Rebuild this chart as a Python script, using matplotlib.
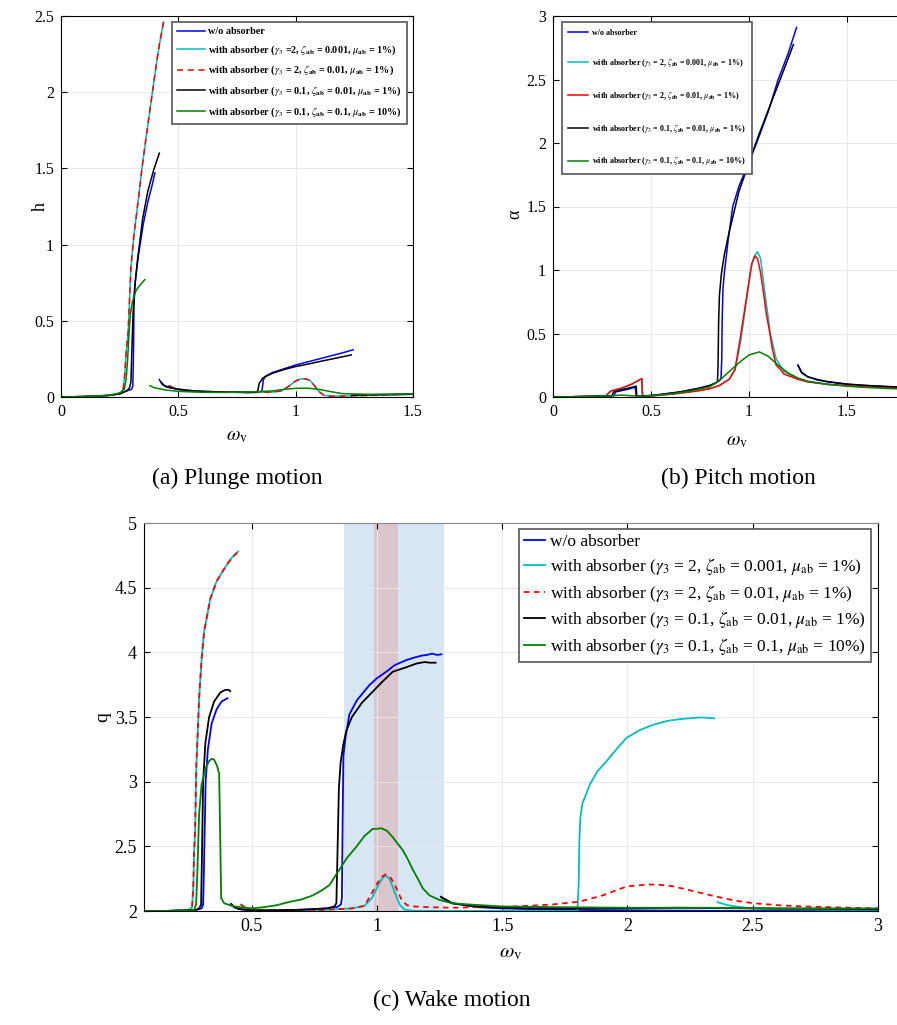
import numpy as np
import matplotlib
matplotlib.use("Agg")
import matplotlib.pyplot as plt
from matplotlib.ticker import FormatStrFormatter

plt.rcParams['font.family'] = ['Liberation Serif', 'DejaVu Serif']
plt.rcParams['mathtext.fontset'] = 'stix'

nan = np.nan

# ==================== (a) plunge h ====================
a_blue_x = [0, 0.1, 0.2, 0.25, 0.28, 0.30, 0.306, 0.309, 0.311, 0.316, 0.33, 0.35, 0.37, 0.39, 0.40, nan,
            0.419, 0.43, 0.45, 0.5, 0.55, 0.6, 0.7, 0.8, 0.855, 0.858, 0.862, 0.87, 0.9, 0.95, 1.0, 1.05, 1.1, 1.15, 1.2, 1.245, nan,
            1.25, 1.3, 1.4, 1.5]
a_blue_y = [0, 0.003, 0.01, 0.02, 0.04, 0.05, 0.07, 0.3, 0.6, 0.75, 0.93, 1.13, 1.28, 1.40, 1.47, nan,
            0.115, 0.085, 0.065, 0.05, 0.042, 0.037, 0.032, 0.03, 0.032, 0.06, 0.11, 0.135, 0.16, 0.185, 0.21, 0.23, 0.25, 0.27, 0.29, 0.31, nan,
            0.012, 0.014, 0.016, 0.018]
a_black_x = [0, 0.1, 0.2, 0.25, 0.28, 0.292, 0.298, 0.302, 0.307, 0.314, 0.326, 0.348, 0.37, 0.395, 0.419, nan,
             0.425, 0.44, 0.47, 0.5, 0.55, 0.6, 0.7, 0.8, 0.83, 0.838, 0.845, 0.86, 0.9, 0.95, 1.0, 1.05, 1.1, 1.15, 1.2, 1.237, nan,
             1.24, 1.3, 1.4, 1.5]
a_black_y = [0, 0.003, 0.01, 0.02, 0.04, 0.06, 0.1, 0.3, 0.55, 0.72, 0.9, 1.17, 1.35, 1.49, 1.60, nan,
             0.10, 0.075, 0.06, 0.05, 0.042, 0.037, 0.032, 0.03, 0.031, 0.04, 0.09, 0.125, 0.155, 0.18, 0.2, 0.215, 0.232, 0.248, 0.264, 0.276, nan,
             0.012, 0.014, 0.016, 0.018]
a_cyan_x = [0, 0.1, 0.2, 0.25, 0.265, 0.272, 0.278, 0.286, 0.298, 0.31, 0.329, 0.345, 0.365, 0.385, 0.405, 0.42, 0.437, nan,
            0.46, 0.48, 0.5, 0.55, 0.6, 0.7, 0.8, 0.9, 0.94, 0.97, 1.0, 1.02, 1.04, 1.06, 1.08, 1.1, 1.12, 1.15, 1.2, 1.3, 1.4, 1.5]
a_cyan_y = [0, 0.003, 0.01, 0.025, 0.05, 0.15, 0.3, 0.42, 0.85, 1.05, 1.29, 1.5, 1.73, 1.95, 2.17, 2.32, 2.46, nan,
            0.075, 0.06, 0.052, 0.042, 0.036, 0.032, 0.03, 0.032, 0.04, 0.07, 0.105, 0.118, 0.12, 0.11, 0.075, 0.035, 0.012, 0.005, 0.006, 0.01, 0.015, 0.02]
a_red_x = a_cyan_x
a_red_y = a_cyan_y
a_green_x = [0, 0.1, 0.2, 0.25, 0.27, 0.278, 0.284, 0.29, 0.296, 0.305, 0.32, 0.34, 0.357, nan,
             0.379, 0.4, 0.45, 0.5, 0.6, 0.7, 0.8, 0.9, 0.95, 1.0, 1.05, 1.1, 1.15, 1.2, 1.3, 1.4, 1.5]
a_green_y = [0, 0.003, 0.01, 0.025, 0.05, 0.12, 0.25, 0.42, 0.55, 0.63, 0.7, 0.74, 0.77, nan,
             0.074, 0.06, 0.045, 0.037, 0.031, 0.03, 0.032, 0.04, 0.05, 0.057, 0.058, 0.05, 0.035, 0.022, 0.018, 0.018, 0.02]

# ==================== (b) pitch alpha ====================
b_blue_x = [0, 0.1, 0.2, 0.28, 0.31, 0.32, 0.35, 0.38, 0.415, 0.42, 0.425, 0.45, 0.5, 0.55, 0.6, 0.65, 0.7, 0.75, 0.8, 0.83, 0.85,
            0.858, 0.862, 0.864, 0.868, 0.875, 0.895, 0.918, 0.95, 1.0, 1.04, 1.1, 1.15, 1.2, 1.244, nan,
            1.25, 1.27, 1.3, 1.35, 1.4, 1.5, 1.6, 1.7, 1.8]
b_blue_y = [0, 0.002, 0.005, 0.008, 0.01, 0.04, 0.05, 0.06, 0.075, 0.078, 0.005, 0.006, 0.012, 0.02, 0.03, 0.04, 0.055, 0.07, 0.09, 0.11, 0.13,
            0.15, 0.3, 0.6, 0.85, 0.975, 1.24, 1.5, 1.66, 1.85, 2.0, 2.25, 2.5, 2.7, 2.91, nan,
            0.25, 0.19, 0.16, 0.135, 0.12, 0.1, 0.09, 0.082, 0.075]
b_black_x = [0, 0.1, 0.2, 0.28, 0.3, 0.31, 0.35, 0.38, 0.425, 0.428, 0.45, 0.5, 0.55, 0.6, 0.65, 0.7, 0.75, 0.8, 0.83, 0.84,
             0.843, 0.846, 0.85, 0.86, 0.875, 0.9, 0.95, 1.0, 1.05, 1.1, 1.15, 1.2, 1.228, nan,
             1.252, 1.27, 1.3, 1.35, 1.4, 1.5, 1.6, 1.7, 1.8]
b_black_y = [0, 0.002, 0.005, 0.008, 0.01, 0.04, 0.058, 0.068, 0.085, 0.005, 0.006, 0.012, 0.02, 0.03, 0.04, 0.055, 0.07, 0.09, 0.11, 0.12,
             0.25, 0.6, 0.8, 0.97, 1.12, 1.3, 1.62, 1.84, 2.06, 2.26, 2.46, 2.66, 2.776, nan,
             0.25, 0.195, 0.16, 0.137, 0.122, 0.102, 0.091, 0.083, 0.077]
b_cyan_x = [0, 0.1, 0.2, 0.27, 0.28, 0.29, 0.3, 0.35, 0.4, 0.454, 0.456, 0.46, 0.5, 0.6, 0.7, 0.8, 0.85, 0.9, 0.93, 0.96, 0.99,
            1.01, 1.025, 1.044, 1.06, 1.08, 1.11, 1.14, 1.18, 1.25, 1.3, 1.4, 1.5, 1.6, 1.7, 1.8]
b_cyan_y = [0, 0.002, 0.005, 0.008, 0.025, 0.04, 0.05, 0.07, 0.1, 0.145, 0.03, 0.005, 0.008, 0.022, 0.04, 0.065, 0.09, 0.14, 0.21, 0.45, 0.78,
            1.0, 1.1, 1.145, 1.09, 0.85, 0.5, 0.3, 0.2, 0.14, 0.12, 0.1, 0.09, 0.08, 0.075, 0.07]
b_red_x = [0, 0.1, 0.2, 0.27, 0.28, 0.29, 0.3, 0.35, 0.4, 0.454, 0.456, 0.46, 0.5, 0.55, 0.6, 0.65, 0.7, 0.75, 0.8, 0.85, 0.9,
           0.93, 0.96, 0.99, 1.0, 1.015, 1.032, 1.045, 1.06, 1.077, 1.09, 1.108, 1.12, 1.14, 1.16, 1.18, 1.25, 1.3, 1.4, 1.5, 1.6, 1.7, 1.8]
b_red_y = [0, 0.002, 0.005, 0.008, 0.025, 0.04, 0.05, 0.07, 0.1, 0.145, 0.03, 0.005, 0.008, 0.015, 0.022, 0.03, 0.04, 0.05, 0.065, 0.09, 0.14,
           0.22, 0.5, 0.8, 0.9, 1.05, 1.11, 1.09, 0.98, 0.8, 0.65, 0.5, 0.38, 0.25, 0.22, 0.18, 0.14, 0.12, 0.1, 0.09, 0.08, 0.075, 0.07]
b_green_x = [0, 0.1, 0.2, 0.3, 0.35, 0.4, 0.45, 0.5, 0.6, 0.7, 0.8, 0.85, 0.9, 0.95, 1.0, 1.054, 1.1, 1.15, 1.2, 1.25,
             1.3, 1.4, 1.5, 1.6, 1.7, 1.8]
b_green_y = [0, 0.002, 0.005, 0.01, 0.015, 0.01, 0.005, 0.01, 0.025, 0.045, 0.08, 0.13, 0.2, 0.27, 0.33, 0.355, 0.32, 0.25, 0.19, 0.15,
             0.125, 0.1, 0.085, 0.075, 0.068, 0.062]

# ==================== (c) wake q ====================
c_blue_x = [0.07, 0.15, 0.2, 0.25, 0.28, 0.3, 0.306, 0.309, 0.312, 0.316, 0.325, 0.34, 0.36, 0.38, 0.403, nan,
            0.417, 0.43, 0.45, 0.5, 0.6, 0.7, 0.8, 0.84, 0.856, 0.86, 0.863, 0.866, 0.875, 0.89, 0.92, 0.95, 0.97, 1.0,
            1.037, 1.07, 1.117, 1.15, 1.18, 1.2, 1.22, 1.24, 1.257, nan,
            1.26, 1.3, 1.4, 1.5, 1.7, 2.0, 2.5, 3.0]
c_blue_y = [2.0, 2.0, 2.003, 2.006, 2.01, 2.02, 2.05, 2.3, 2.6, 3.0, 3.25, 3.45, 3.56, 3.62, 3.645, nan,
            2.055, 2.03, 2.015, 2.005, 2.005, 2.01, 2.02, 2.03, 2.05, 2.1, 2.7, 3.2, 3.35, 3.52, 3.63, 3.7, 3.747, 3.8,
            3.85, 3.9, 3.94, 3.96, 3.975, 3.98, 3.99, 3.98, 3.985, nan,
            2.1, 2.06, 2.03, 2.02, 2.01, 2.005, 2.0, 2.0]
c_black_x = [0.07, 0.15, 0.2, 0.25, 0.28, 0.29, 0.298, 0.302, 0.306, 0.315, 0.33, 0.35, 0.375, 0.395, 0.408, 0.414, nan,
             0.42, 0.43, 0.45, 0.5, 0.6, 0.7, 0.8, 0.83, 0.838, 0.843, 0.848, 0.855, 0.865, 0.877, 0.9, 0.94, 0.983, 1.02,
             1.063, 1.11, 1.157, 1.19, 1.21, 1.234, nan,
             1.255, 1.3, 1.4, 1.5, 1.7, 2.0, 2.2, 2.5, 3.0]
c_black_y = [2.0, 2.0, 2.003, 2.006, 2.01, 2.02, 2.05, 2.5, 3.0, 3.3, 3.5, 3.62, 3.69, 3.71, 3.71, 3.70, nan,
             2.05, 2.03, 2.015, 2.005, 2.005, 2.01, 2.02, 2.035, 2.06, 2.5, 2.95, 3.15, 3.28, 3.39, 3.5, 3.61, 3.696, 3.77,
             3.85, 3.88, 3.913, 3.925, 3.92, 3.92, nan,
             2.11, 2.06, 2.035, 2.025, 2.02, 2.02, 2.025, 2.02, 2.015]
c_cyan_x = [0.07, 0.15, 0.2, 0.25, 0.262, 0.267, 0.27, 0.274, 0.279, 0.285, 0.29, 0.3, 0.31, 0.334, 0.36, 0.397, 0.42, 0.446, nan,
            0.457, 0.47, 0.5, 0.6, 0.7, 0.8, 0.9, 0.95, 0.98, 1.0, 1.02, 1.034, 1.05, 1.07, 1.09, 1.11, 1.15, 1.2, 1.3, 1.5,
            1.7, 1.8, 1.805, 1.808, 1.812, 1.82, 1.85, 1.88, 1.917, 1.96, 1.997, 2.05, 2.103, 2.16, 2.21, 2.29, 2.346, nan,
            2.359, 2.4, 2.45, 2.5, 2.6, 2.8, 3.0]
c_cyan_y = [2.0, 2.0, 2.003, 2.01, 2.03, 2.2, 2.45, 2.62, 3.13, 3.4, 3.645, 3.95, 4.16, 4.41, 4.55, 4.667, 4.73, 4.78, nan,
            2.05, 2.03, 2.01, 2.005, 2.005, 2.01, 2.02, 2.04, 2.1, 2.18, 2.25, 2.275, 2.25, 2.15, 2.05, 2.01, 2.0, 2.0, 2.0, 2.0,
            2.0, 2.0, 2.2, 2.55, 2.725, 2.83, 2.98, 3.08, 3.16, 3.26, 3.34, 3.4, 3.44, 3.47, 3.484, 3.497, 3.49, nan,
            2.068, 2.045, 2.03, 2.02, 2.015, 2.01, 2.01]
c_red_x = [0.07, 0.15, 0.2, 0.25, 0.262, 0.267, 0.27, 0.274, 0.279, 0.285, 0.29, 0.3, 0.31, 0.334, 0.36, 0.397, 0.42, 0.446, nan,
           0.457, 0.47, 0.5, 0.6, 0.7, 0.8, 0.9, 0.95, 0.983, 1.0, 1.02, 1.034, 1.05, 1.07, 1.083, 1.1, 1.12, 1.15, 1.2, 1.3,
           1.4, 1.503, 1.6, 1.7, 1.81, 1.9, 1.997, 2.05, 2.09, 2.15, 2.183, 2.25, 2.357, 2.43, 2.503, 2.6, 2.7, 2.8, 2.9, 3.0]
c_red_y = [2.0, 2.0, 2.003, 2.01, 2.03, 2.2, 2.45, 2.62, 3.13, 3.4, 3.645, 3.95, 4.16, 4.41, 4.55, 4.667, 4.73, 4.78, nan,
           2.05, 2.03, 2.01, 2.005, 2.005, 2.01, 2.02, 2.04, 2.15, 2.21, 2.265, 2.283, 2.27, 2.21, 2.15, 2.08, 2.045, 2.035, 2.03, 2.025,
           2.03, 2.03, 2.04, 2.05, 2.073, 2.12, 2.19, 2.2, 2.205, 2.2, 2.19, 2.16, 2.11, 2.08, 2.06, 2.045, 2.035, 2.03, 2.025, 2.02]
c_green_x = [0.07, 0.15, 0.2, 0.25, 0.27, 0.278, 0.283, 0.29, 0.3, 0.315, 0.33, 0.341, 0.35, 0.362, 0.37, 0.374, 0.378, 0.39,
             0.42, 0.45, 0.503, 0.55, 0.6, 0.65, 0.7, 0.743, 0.78, 0.81, 0.85, 0.88, 0.917, 0.95, 0.983, 1.0, 1.017, 1.04,
             1.063, 1.083, 1.103, 1.123, 1.143, 1.163, 1.183, 1.21, 1.25, 1.3, 1.37, 1.5, 1.7, 2.0, 2.3, 2.6, 3.0]
c_green_y = [2.0, 2.0, 2.003, 2.006, 2.01, 2.05, 2.3, 2.75, 2.98, 3.1, 3.16, 3.177, 3.17, 3.12, 3.06, 2.6, 2.1, 2.06,
             2.04, 2.03, 2.02, 2.03, 2.045, 2.07, 2.09, 2.12, 2.16, 2.2, 2.32, 2.41, 2.495, 2.58, 2.635, 2.635, 2.64, 2.62,
             2.57, 2.52, 2.47, 2.4, 2.32, 2.25, 2.175, 2.12, 2.085, 2.06, 2.05, 2.035, 2.03, 2.025, 2.025, 2.02, 2.02]

# shaded bands in (c)
band_wide = (0.868, 1.268)
band_narrow = (0.988, 1.083)

CYAN = '#00bfbf'
GREEN = '#008000'

lab_a = ['w/o absorber',
         r'with absorber ($\gamma_3$ =2, $\zeta_\mathbf{ab}$ = 0.001, $\mu_\mathbf{ab}$ = 1%)',
         r'with absorber ($\gamma_3$ = 2, $\zeta_\mathbf{ab}$ = 0.01, $\mu_\mathbf{ab}$ = 1%)',
         r'with absorber ($\gamma_3$ = 0.1, $\zeta_\mathbf{ab}$ = 0.01, $\mu_\mathbf{ab}$ = 1%)',
         r'with absorber ($\gamma_3$ = 0.1, $\zeta_\mathbf{ab}$ = 0.1, $\mu_\mathbf{ab}$ = 10%)']
lab_b = ['w/o absorber',
         r'with absorber ($\gamma_3$ = 2, $\zeta_\mathbf{ab}$ = 0.001, $\mu_\mathbf{ab}$ = 1%)',
         r'with absorber ($\gamma_3$ = 2, $\zeta_\mathbf{ab}$ = 0.01, $\mu_\mathbf{ab}$ = 1%)',
         r'with absorber ($\gamma_3$ = 0.1, $\zeta_\mathbf{ab}$ = 0.01, $\mu_\mathbf{ab}$ = 1%)',
         r'with absorber ($\gamma_3$ = 0.1, $\zeta_\mathbf{ab}$ = 0.1, $\mu_\mathbf{ab}$ = 10%)']
lab_c = ['w/o absorber',
         r'with absorber ($\gamma_3$ = 2, $\zeta_\mathrm{ab}$ = 0.001, $\mu_\mathrm{ab}$ = 1%)',
         r'with absorber ($\gamma_3$ = 2, $\zeta_\mathrm{ab}$ = 0.01, $\mu_\mathrm{ab}$ = 1%)',
         r'with absorber ($\gamma_3$ = 0.1, $\zeta_\mathrm{ab}$ = 0.01, $\mu_\mathrm{ab}$ = 1%)',
         r'with absorber ($\gamma_3$ = 0.1, $\zeta_\mathrm{ab}$ = 0.1, $\mu_\mathrm{ab}$ = 10%)']


def style_axes(ax, fs):
    ax.grid(True, color='#e8e8e8', linewidth=0.7)
    ax.tick_params(direction='in', top=True, right=True, length=4, width=0.8, labelsize=fs, pad=5)
    for s in ax.spines.values():
        s.set_linewidth(0.8)
    ax.xaxis.set_major_formatter(FormatStrFormatter('%g'))
    ax.yaxis.set_major_formatter(FormatStrFormatter('%g'))


def add_legend(ax, **kw):
    leg = ax.legend(frameon=True, fancybox=False, edgecolor='#555555', framealpha=1,
                    borderaxespad=0, **kw)
    leg.get_frame().set_linewidth(1.2)
    return leg


fig = plt.figure(figsize=(8.97, 10.25), dpi=100)

# ---------- (a) ----------
ax1 = fig.add_axes([61 / 897, 1 - 397 / 1025, 352 / 897, 381 / 1025])
lw = 1.1
ax1.plot(a_blue_x, a_blue_y, color='b', lw=lw, label=lab_a[0])
ax1.plot(a_cyan_x, a_cyan_y, color=CYAN, lw=lw, label=lab_a[1])
ax1.plot(a_red_x, a_red_y, color='r', lw=lw, ls=(0, (4, 3)), label=lab_a[2])
ax1.plot(a_black_x, a_black_y, color='k', lw=lw, label=lab_a[3])
ax1.plot(a_green_x, a_green_y, color=GREEN, lw=lw, label=lab_a[4])
ax1.set_xlim(0, 1.5)
ax1.set_ylim(0, 2.5)
ax1.set_xticks([0, 0.5, 1, 1.5])
ax1.set_yticks([0, 0.5, 1, 1.5, 2, 2.5])
style_axes(ax1, 11.5)
ax1.set_xlabel(r'$\omega_\mathrm{v}$', fontsize=14, labelpad=6)
ax1.set_ylabel('h', fontsize=13)
ax1.yaxis.set_label_coords(-0.035, 0.5)
add_legend(ax1, loc='upper right', bbox_to_anchor=(0.983, 0.984), prop={'weight': 'bold', 'size': 7.3},
           handlelength=2.8, handletextpad=0.3, labelspacing=0.7, borderpad=0.5)

# ---------- (b) ----------
ax2 = fig.add_axes([553 / 897, 1 - 397 / 1025, 372 / 897, 381 / 1025])
ax2.plot(b_blue_x, b_blue_y, color='b', lw=lw, label=lab_b[0])
ax2.plot(b_cyan_x, b_cyan_y, color=CYAN, lw=lw, label=lab_b[1])
ax2.plot(b_red_x, b_red_y, color='r', lw=lw, label=lab_b[2])
ax2.plot(b_black_x, b_black_y, color='k', lw=lw, label=lab_b[3])
ax2.plot(b_green_x, b_green_y, color=GREEN, lw=lw, label=lab_b[4])
ax2.set_xlim(0, 1.9)
ax2.set_ylim(0, 3)
ax2.set_xticks([0, 0.5, 1, 1.5])
ax2.set_yticks([0, 0.5, 1, 1.5, 2, 2.5, 3])
style_axes(ax2, 11.5)
ax2.set_xlabel(r'$\omega_\mathrm{v}$', fontsize=14)
ax2.xaxis.set_label_coords((737 - 553) / 372, -0.095)
ax2.set_ylabel('α', fontsize=13)
ax2.yaxis.set_label_coords(-0.08, 0.48)
add_legend(ax2, loc='upper left', bbox_to_anchor=(0.024, 0.984), prop={'weight': 'bold', 'size': 5.8},
           handlelength=2.4, handletextpad=0.5, labelspacing=2.45, borderpad=0.8)

# ---------- (c) ----------
ax3 = fig.add_axes([144 / 897, 1 - 911 / 1025, 734 / 897, 388 / 1025])
ax3.axvspan(*band_wide, color='#d6e6f2', lw=0, zorder=1)
ax3.axvspan(*band_narrow, color='#dcc6ce', lw=0, zorder=1.1)
lw3 = 1.3
ax3.plot(c_blue_x, c_blue_y, color='b', lw=lw3, label=lab_c[0])
ax3.plot(c_cyan_x, c_cyan_y, color=CYAN, lw=lw3, label=lab_c[1])
ax3.plot(c_red_x, c_red_y, color='r', lw=lw3, ls=(0, (3, 2.5)), label=lab_c[2])
ax3.plot(c_black_x, c_black_y, color='k', lw=lw3, label=lab_c[3])
ax3.plot(c_green_x, c_green_y, color=GREEN, lw=lw3, label=lab_c[4])
ax3.set_xlim(0.07, 3)
ax3.set_ylim(2, 5)
ax3.set_xticks([0.5, 1, 1.5, 2, 2.5, 3])
ax3.set_yticks([2, 2.5, 3, 3.5, 4, 4.5, 5])
style_axes(ax3, 13)
ax3.spines['top'].set_color('#888888')
ax3.set_xlabel(r'$\omega_\mathrm{v}$', fontsize=15, labelpad=6)
ax3.set_ylabel('q', fontsize=14)
ax3.yaxis.set_label_coords(-0.045, 0.5)
add_legend(ax3, loc='upper right', bbox_to_anchor=(0.990, 0.985), prop={'size': 12.5},
           handlelength=1.2, handletextpad=0.25, labelspacing=0.33, borderpad=0.3)

# captions
fig.text(237 / 897, 1 - 478 / 1025, '(a) Plunge motion', ha='center', va='center', fontsize=17)
fig.text(738 / 897, 1 - 478 / 1025, '(b) Pitch motion', ha='center', va='center', fontsize=17)
fig.text(452 / 897, 1 - 1000 / 1025, '(c) Wake motion', ha='center', va='center', fontsize=17)

fig.savefig('out.png', dpi=100)
